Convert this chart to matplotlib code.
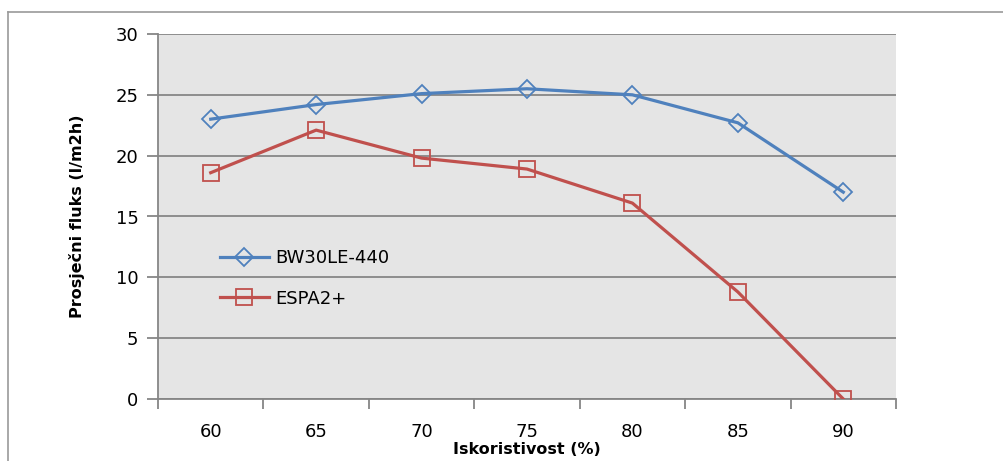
import matplotlib
matplotlib.use("Agg")
import matplotlib.pyplot as plt
from matplotlib.lines import Line2D
import numpy as np

# data
recovery = [60, 65, 70, 75, 80, 85, 90]
bw30le = [23.0, 24.2, 25.1, 25.5, 25.0, 22.7, 17.0]
espa2 = [18.6, 22.1, 19.8, 18.9, 16.1, 8.8, 0.0]
series_names = ["BW30LE-440", "ESPA2+"]

blue = "#4F81BD"
red = "#C0504D"
grid_gray = "#868686"

fig = plt.figure(figsize=(10.04, 4.61), dpi=100)
ax = fig.add_axes([158 / 1004, 62 / 461, 738 / 1004, 365 / 461])
ax.set_facecolor("#E5E5E5")

ax.plot(recovery, bw30le, color=blue, linewidth=2.3, marker="D", markersize=9,
        markerfacecolor="none", markeredgewidth=1.3, label=series_names[0],
        zorder=3)
ax.plot(recovery, espa2, color=red, linewidth=2.3, marker="s", markersize=11,
        markerfacecolor="none", markeredgewidth=1.3, label=series_names[1],
        zorder=3)

ax.set_xlim(57.5, 92.5)
ax.set_ylim(0, 30)
ax.set_yticks(range(0, 31, 5))
ax.set_xticks(recovery)
ax.set_xticks(np.arange(57.5, 93, 5), minor=True)
ax.tick_params(axis="x", which="major", length=0, pad=17, labelsize=13)
ax.tick_params(axis="x", which="minor", length=7, width=1.3, color=grid_gray)
ax.tick_params(axis="y", length=8, width=1.3, color=grid_gray, pad=6,
               labelsize=13)
ax.yaxis.grid(True, color=grid_gray, linewidth=1.3)
ax.set_axisbelow(True)
for side in ["top", "right"]:
    ax.spines[side].set_visible(False)
for side in ["left", "bottom"]:
    ax.spines[side].set_color(grid_gray)
    ax.spines[side].set_linewidth(1.3)

ax.set_ylabel("Prosječni fluks (l/m2h)", fontsize=11.5, fontweight="bold",
              labelpad=22)
ax.set_xlabel("Iskoristivost (%)", fontsize=11.5, fontweight="bold", labelpad=1)

ax.legend(loc="upper left", bbox_to_anchor=(0.062, 0.455), frameon=False,
          fontsize=13, handlelength=2.7, handletextpad=0.35,
          labelspacing=1.25)

# outer chart frame (partly cropped in the original)
fig.add_artist(Line2D([8 / 1004, 1.0], [1 - 12 / 461, 1 - 12 / 461],
                      transform=fig.transFigure, color="#9A9A9A", linewidth=1.2))
fig.add_artist(Line2D([8 / 1004, 8 / 1004], [0, 1 - 12 / 461],
                      transform=fig.transFigure, color="#9A9A9A", linewidth=1.2))

fig.savefig("out.png", dpi=100)
